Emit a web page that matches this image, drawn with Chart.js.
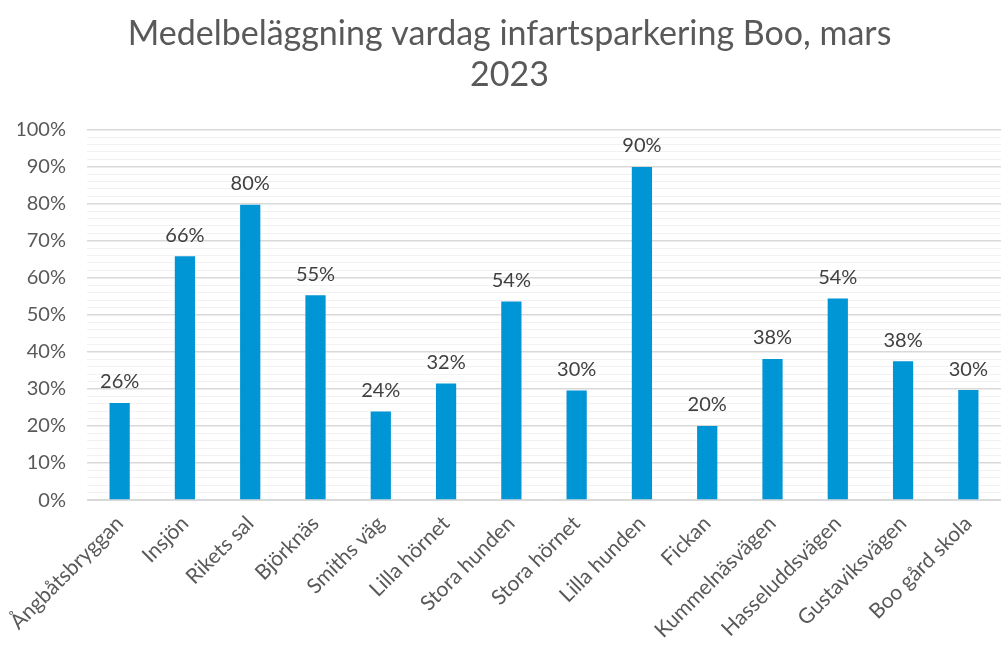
<!DOCTYPE html>
<html>
<head>
<meta charset="utf-8">
<script src="https://cdn.jsdelivr.net/npm/chart.js"></script>
<style>
  html, body { margin: 0; padding: 0; background: #ffffff; }
  #wrap { width: 1001px; height: 646px; }
</style>
</head>
<body>
<div id="wrap"><canvas id="occupancy"></canvas></div>
<script>
// Parkeringar och medelbeläggning (procent)
const parkeringar = ['Ångbåtsbryggan', 'Insjön', 'Rikets sal', 'Björknäs', 'Smiths väg', 'Lilla hörnet',
    'Stora hunden', 'Stora hörnet', 'Lilla hunden', 'Fickan', 'Kummelnäsvägen', 'Hasseluddsvägen',
    'Gustaviksvägen', 'Boo gård skola'];
const belaggning = [26.2, 65.8, 79.7, 55.3, 23.9, 31.5, 53.6, 29.6, 89.9, 20.0, 38.1, 54.4, 37.5, 29.7];
const yTicks = [0, 10, 20, 30, 40, 50, 60, 70, 80, 90, 100];

const FONT = "Lato, 'Open Sans', sans-serif";

// etiketter ovanför staplarna
const barLabels = {
    id: 'barLabels',
    afterDatasetsDraw(chart) {
        const ctx = chart.ctx;
        const meta = chart.getDatasetMeta(0);
        ctx.save();
        ctx.font = '20px ' + FONT;
        ctx.fillStyle = '#404040';
        ctx.textAlign = 'center';
        ctx.textBaseline = 'bottom';
        meta.data.forEach((bar, i) => {
            ctx.fillText(Math.round(belaggning[i]) + '%', bar.x, bar.y - 11);
        });
        ctx.restore();
    }
};

const occCtx = document.getElementById('occupancy').getContext('2d');

var occChart = new Chart(occCtx, {
    type: 'bar',
    data: {
        labels: parkeringar,
        datasets: [{
            label: 'Medelbeläggning',
            data: belaggning,
            backgroundColor: '#0095d5',
            borderWidth: 0,
            barPercentage: 0.31,
            categoryPercentage: 1
        }]
    },
    options: {
        responsive: true,
        maintainAspectRatio: false,
        animation: false,
        layout: {
            padding: { left: 18, right: 0, top: 0, bottom: 0 }
        },
        plugins: {
            legend: { display: false },
            tooltip: { enabled: false },
            title: {
                display: true,
                text: ['Medelbeläggning vardag infartsparkering Boo, mars', '2023'],
                color: '#595959',
                font: { family: FONT, size: 34, weight: 'normal', lineHeight: 1.2 },
                padding: { top: 14, bottom: 34 }
            }
        },
        scales: {
            x: {
                grid: { display: false },
                border: { color: '#d9d9d9', width: 1 },
                afterFit: scale => { scale.paddingLeft = 0; },
                ticks: {
                    color: '#595959',
                    font: { family: FONT, size: 21 },
                    maxRotation: 45,
                    minRotation: 45,
                    autoSkip: false,
                    padding: 3
                }
            },
            y: {
                min: 0,
                max: 100,
                border: { display: false },
                afterFit: scale => { scale.width = 69; },
                grid: {
                    drawTicks: false,
                    color: c => (yTicks.includes(c.tick.value) ? '#d9d9d9' : '#f2f2f2'),
                    lineWidth: c => (yTicks.includes(c.tick.value) ? 1.5 : 1)
                },
                ticks: {
                    stepSize: 2,
                    autoSkip: false,
                    padding: 21,
                    color: '#595959',
                    font: { family: FONT, size: 20 },
                    callback: v => (yTicks.includes(v) ? v + '%' : '')
                }
            }
        }
    },
    plugins: [barLabels]
});
</script>
</body>
</html>
